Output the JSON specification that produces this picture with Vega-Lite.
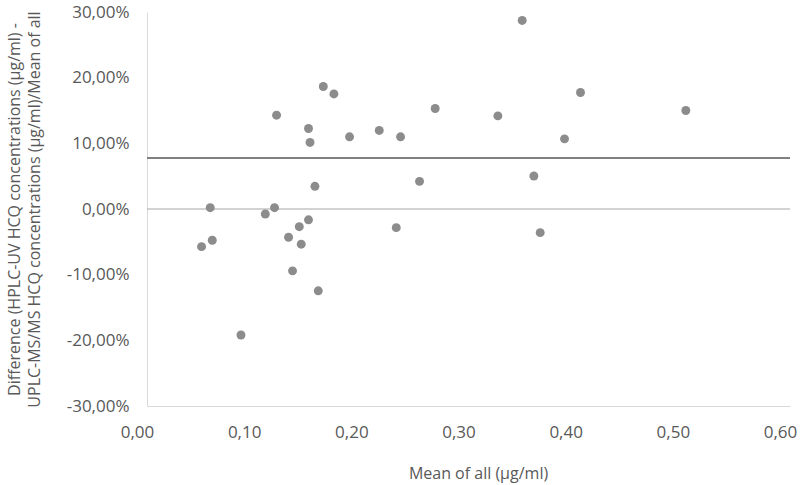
{
  "$schema": "https://vega.github.io/schema/vega-lite/v6.json",
  "width": 643,
  "height": 394,
  "autosize": {"type": "none"},
  "padding": {"left": 147, "top": 12, "right": 10, "bottom": 79},
  "background": "white",
  "config": {
    "locale": {"number": {"decimal": ",", "thousands": ".", "grouping": [3], "currency": ["", " €"], "minus": "-"}},
    "view": {"stroke": null},
    "axis": {"labelFont": "Open Sans", "titleFont": "Open Sans", "labelColor": "#595959", "titleColor": "#595959", "labelFontSize": 17, "titleFontSize": 16, "titleFontWeight": "normal", "grid": false, "ticks": false, "domainColor": "#d9d9d9", "domainWidth": 1}
  },
  "layer": [
    {
      "data": {"values": [{"line": "zero", "value": 0}]},
      "mark": {"type": "rule", "color": "#a6a6a6", "strokeWidth": 1},
      "encoding": {"y": {"field": "value", "type": "quantitative", "scale": {"domain": [-0.3, 0.3]}}}
    },
    {
      "data": {"values": [{"line": "mean", "value": 0.0775}]},
      "mark": {"type": "rule", "color": "#808080", "strokeWidth": 2},
      "encoding": {"y": {"field": "value", "type": "quantitative", "scale": {"domain": [-0.3, 0.3]}}}
    },
    {
      "data": {"values": [
        {"mean": 0.1645, "diff": 0.1865},
        {"mean": 0.1744, "diff": 0.1752},
        {"mean": 0.1209, "diff": 0.1429},
        {"mean": 0.2689, "diff": 0.1530},
        {"mean": 0.1507, "diff": 0.1226},
        {"mean": 0.1521, "diff": 0.1014},
        {"mean": 0.1890, "diff": 0.1099},
        {"mean": 0.2167, "diff": 0.1196},
        {"mean": 0.2366, "diff": 0.1099},
        {"mean": 0.2543, "diff": 0.0421},
        {"mean": 0.1567, "diff": 0.0345},
        {"mean": 0.0590, "diff": 0.0020},
        {"mean": 0.1190, "diff": 0.0020},
        {"mean": 0.1104, "diff": -0.0076},
        {"mean": 0.1507, "diff": -0.0165},
        {"mean": 0.3501, "diff": 0.2872},
        {"mean": 0.4045, "diff": 0.1774},
        {"mean": 0.3274, "diff": 0.1418},
        {"mean": 0.5028, "diff": 0.1500},
        {"mean": 0.3896, "diff": 0.1068},
        {"mean": 0.3610, "diff": 0.0502},
        {"mean": 0.1421, "diff": -0.0269},
        {"mean": 0.1321, "diff": -0.0430},
        {"mean": 0.1439, "diff": -0.0536},
        {"mean": 0.2326, "diff": -0.0284},
        {"mean": 0.0609, "diff": -0.0476},
        {"mean": 0.0509, "diff": -0.0573},
        {"mean": 0.1358, "diff": -0.0942},
        {"mean": 0.1598, "diff": -0.1246},
        {"mean": 0.0877, "diff": -0.1919},
        {"mean": 0.3669, "diff": -0.0360}
      ]},
      "mark": {"type": "point", "filled": true, "opacity": 1, "color": "#8c8c8c", "size": 80},
      "encoding": {
        "x": {"field": "mean", "type": "quantitative", "scale": {"domain": [0, 0.6], "nice": false, "zero": true},
          "axis": {"values": [0, 0.1, 0.2, 0.3, 0.4, 0.5, 0.6], "format": ".2f", "title": "Mean of all (µg/ml)", "labelPadding": 18, "titlePadding": 25, "labelOffset": -10, "titleX": 331, "labelFlush": false}},
        "y": {"field": "diff", "type": "quantitative", "scale": {"domain": [-0.3, 0.3], "nice": false},
          "axis": {"values": [-0.3, -0.2, -0.1, 0, 0.1, 0.2, 0.3], "format": ".2%", "title": ["Difference (HPLC-UV HCQ concentrations (µg/ml) -", "UPLC-MS/MS HCQ concentrations (µg/ml)/Mean of all"], "labelPadding": 18, "titlePadding": 24, "titleLineHeight": 20, "labelFlush": false}}
      }
    }
  ]
}
